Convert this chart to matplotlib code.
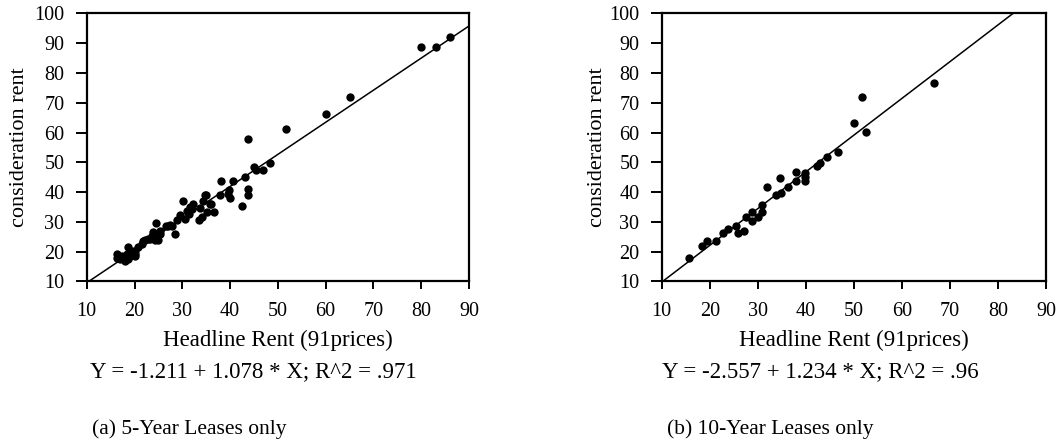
import numpy as np
import matplotlib
matplotlib.use('Agg')
import matplotlib.pyplot as plt

plt.rcParams['font.family'] = ['Liberation Serif', 'DejaVu Serif']

# (a) 5-year leases: headline rent vs consideration rent
x5 = [85.96, 83.0, 80.0, 65.0, 60.0, 51.7, 43.7, 48.3, 46.9, 45.0, 45.4, 43.2,
      40.7, 38.2, 39.8, 40.0, 37.9, 43.7, 43.7, 42.5, 34.9, 34.4, 36.1, 33.7,
      36.6, 35.1, 33.6, 32.0, 30.2, 31.3, 30.6, 29.5, 28.8, 28.5, 27.4, 26.6,
      25.3, 24.4, 25.0, 24.3, 23.6, 23.2, 22.2, 21.5, 20.8, 20.1, 20.2, 19.4,
      18.6, 18.4, 18.7, 17.3, 16.4, 16.4, 17.0, 18.0, 19.1, 20.1, 21.8, 22.9,
      23.9, 25.3, 27.1, 27.8, 34.7, 35.8, 34.1, 39.6, 31.6, 30.9, 32.3]
y5 = [92.2, 88.8, 88.8, 72.0, 66.4, 61.1, 57.7, 49.8, 47.5, 48.4, 47.4, 45.1,
      43.6, 43.6, 40.6, 38.1, 38.9, 40.9, 38.9, 35.4, 39.1, 37.2, 36.1, 34.8,
      33.5, 33.5, 30.5, 34.4, 36.9, 32.7, 31.1, 32.2, 30.5, 26.0, 29.1, 28.6,
      26.9, 29.6, 24.0, 24.0, 25.4, 24.3, 24.0, 22.6, 21.5, 20.4, 18.5, 20.4,
      21.5, 19.3, 17.4, 18.7, 19.3, 17.9, 17.6, 17.0, 18.7, 19.3, 23.7, 24.3,
      26.5, 26.0, 28.8, 28.8, 38.9, 36.1, 31.6, 39.4, 35.0, 33.8, 35.9]

# (b) 10-year leases
x10 = [15.75, 18.3, 19.5, 21.3, 22.8, 23.7, 25.4, 25.8, 27.1, 27.5, 28.8, 28.8,
       30.1, 30.8, 30.8, 32.0, 33.7, 34.9, 34.6, 36.3, 37.9, 37.9, 39.9, 39.9,
       39.9, 42.4, 42.9, 44.5, 46.6, 50.0, 51.6, 52.5, 66.6]
y10 = [18.0, 21.9, 23.6, 23.6, 26.4, 27.5, 28.8, 26.2, 26.9, 31.5, 33.5, 30.2,
       31.5, 33.5, 35.6, 41.6, 39.0, 39.8, 44.9, 41.6, 43.8, 46.9, 43.6, 45.2,
       46.5, 48.9, 49.7, 51.7, 53.6, 63.1, 71.9, 60.3, 76.6]

# fitted lines (intercept, slope)
fit5 = (-1.211, 1.078)
fit10 = (-2.557, 1.234)

eq5 = 'Y = -1.211 + 1.078 * X; R^2 = .971'
eq10 = 'Y = -2.557 + 1.234 * X; R^2 = .96'
cap5 = '(a) 5-Year Leases only'
cap10 = '(b) 10-Year Leases only'

x_ticks = [10, 20, 30, 40, 50, 60, 70, 80, 90]
y_ticks = [10, 20, 30, 40, 50, 60, 70, 80, 90, 100]

fig = plt.figure(figsize=(10.64, 4.44), dpi=100)
ax1 = fig.add_axes([0.0815, 0.366, 0.3593, 0.6036])
ax2 = fig.add_axes([0.6219, 0.366, 0.3612, 0.6036])


def panel(ax, xs, ys, fit, ylab_x):
    ax.plot(xs, ys, 'o', color='black', markersize=6, markeredgewidth=0)
    xl = np.array([10, 90])
    ax.plot(xl, fit[0] + fit[1] * xl, color='black', linewidth=1.1)
    ax.set_xlim(10, 90)
    ax.set_ylim(10, 100)
    ax.set_xticks(x_ticks)
    ax.set_yticks(y_ticks)
    for s in ax.spines.values():
        s.set_linewidth(1.6)
    ax.tick_params(axis='x', direction='out', length=6, width=1.4, pad=9, labelsize=14.5)
    ax.tick_params(axis='y', direction='out', length=8, width=1.4, pad=8, labelsize=14.5)
    ax.set_xlabel('Headline Rent (91prices)', fontsize=16.5, va='center')
    ax.xaxis.set_label_coords(0.5, -0.218)
    ax.set_ylabel('consideration rent', fontsize=16, va='center')
    ax.yaxis.set_label_coords(ylab_x, 0.5)


panel(ax1, x5, y5, fit5, -0.177)
panel(ax2, x10, y10, fit10, -0.168)

fig.text(0.0846, 0.162, eq5, fontsize=16.5, va='center', ha='left')
fig.text(0.622, 0.162, eq10, fontsize=16.5, va='center', ha='left')
fig.text(0.0865, 0.034, cap5, fontsize=15.5, va='center', ha='left')
fig.text(0.627, 0.034, cap10, fontsize=15.5, va='center', ha='left')

fig.savefig('out.png', dpi=100)
